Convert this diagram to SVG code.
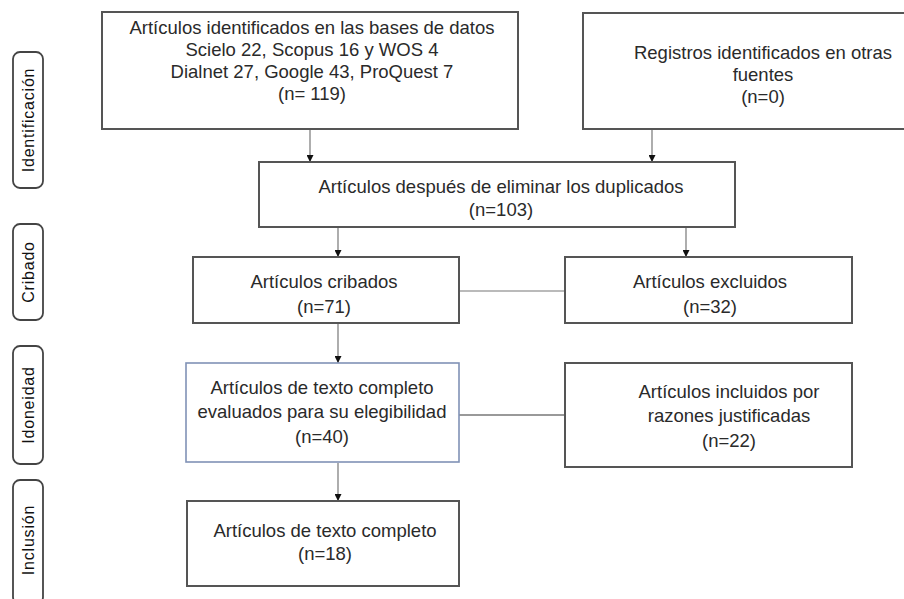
<svg xmlns="http://www.w3.org/2000/svg" width="904" height="599" viewBox="0 0 904 599">
<defs>
<marker id="ah" viewBox="0 0 8 8" refX="8" refY="4" markerWidth="7" markerHeight="7" markerUnits="userSpaceOnUse" orient="auto">
<path d="M0,0 L8,4 L0,8 z" fill="#111"/>
</marker>
<style>
.box{fill:#fff;stroke:#555;stroke-width:2}
.bbox{fill:#fff;stroke:#8092b6;stroke-width:1.6}
.t{font-family:"Liberation Sans",Arial,sans-serif;font-size:18.5px;fill:#2a2a2a;text-anchor:middle}
.lab{fill:#fff;stroke:#444;stroke-width:1.8}
.lt{font-family:"Liberation Sans",Arial,sans-serif;font-size:16px;fill:#111;text-anchor:middle;letter-spacing:0.8px}
.c{stroke:#777;stroke-width:1.2;fill:none}
.ca{stroke:#777;stroke-width:1.2;fill:none;marker-end:url(#ah)}
</style>
</defs>
<rect width="904" height="599" fill="#fff"/>

<g id="labels">
<g id="lab-identificacion"><rect class="lab" x="13" y="52" width="30" height="136" rx="7"/><text class="lt" transform="translate(34,120) rotate(-90)">Identificación</text></g>
<g id="lab-cribado"><rect class="lab" x="13" y="224" width="30" height="96" rx="7"/><text class="lt" transform="translate(34,272) rotate(-90)">Cribado</text></g>
<g id="lab-idoneidad"><rect class="lab" x="13" y="346" width="30" height="118" rx="7"/><text class="lt" transform="translate(34,405) rotate(-90)">Idoneidad</text></g>
<g id="lab-inclusion"><rect class="lab" x="13" y="480" width="30" height="124" rx="7"/><text class="lt" transform="translate(34,540) rotate(-90)">Inclusión</text></g>
</g>

<g id="connectors">
<line class="ca" x1="310" y1="130" x2="310" y2="162"/>
<line class="ca" x1="652" y1="130" x2="652" y2="162"/>
<line class="ca" x1="338" y1="228" x2="338" y2="257"/>
<line class="ca" x1="686" y1="228" x2="686" y2="257"/>
<line class="c" x1="459" y1="291" x2="565" y2="291"/>
<line class="ca" x1="338" y1="324" x2="338" y2="363"/>
<line class="c" x1="459" y1="415" x2="565" y2="415" style="stroke-width:2;stroke:#999"/>
<line class="ca" x1="338" y1="463" x2="338" y2="501"/>
</g>

<g id="n1"><rect class="box" x="102" y="12" width="416" height="117"/>
<text class="t" x="312" y="34">Artículos identificados en las bases de datos</text>
<text class="t" x="312" y="56">Scielo 22, Scopus 16 y WOS 4</text>
<text class="t" x="312" y="78">Dialnet 27, Google 43, ProQuest 7</text>
<text class="t" x="312" y="100">(n= 119)</text></g>

<g id="n2"><rect class="box" x="583" y="13" width="340" height="116"/>
<text class="t" x="763" y="59">Registros identificados en otras</text>
<text class="t" x="763" y="81">fuentes</text>
<text class="t" x="763" y="103">(n=0)</text></g>

<g id="n3"><rect class="box" x="259" y="162" width="476" height="65"/>
<text class="t" x="501" y="193">Artículos después de eliminar los duplicados</text>
<text class="t" x="501" y="216">(n=103)</text></g>

<g id="n4"><rect class="box" x="193" y="257" width="266" height="66"/>
<text class="t" x="324" y="288">Artículos cribados</text>
<text class="t" x="324" y="313">(n=71)</text></g>

<g id="n5"><rect class="box" x="565" y="257" width="287" height="66"/>
<text class="t" x="710" y="288">Artículos excluidos</text>
<text class="t" x="710" y="313">(n=32)</text></g>

<g id="n6"><rect class="bbox" x="186" y="363" width="273" height="99"/>
<text class="t" x="322" y="394">Artículos de texto completo</text>
<text class="t" x="322" y="418">evaluados para su elegibilidad</text>
<text class="t" x="322" y="443">(n=40)</text></g>

<g id="n7"><rect class="box" x="565" y="363" width="287" height="104"/>
<text class="t" x="729" y="398">Artículos incluidos por</text>
<text class="t" x="729" y="422">razones justificadas</text>
<text class="t" x="729" y="447">(n=22)</text></g>

<g id="n8"><rect class="box" x="187" y="501" width="272" height="85"/>
<text class="t" x="325" y="537">Artículos de texto completo</text>
<text class="t" x="325" y="560">(n=18)</text></g>
</svg>
